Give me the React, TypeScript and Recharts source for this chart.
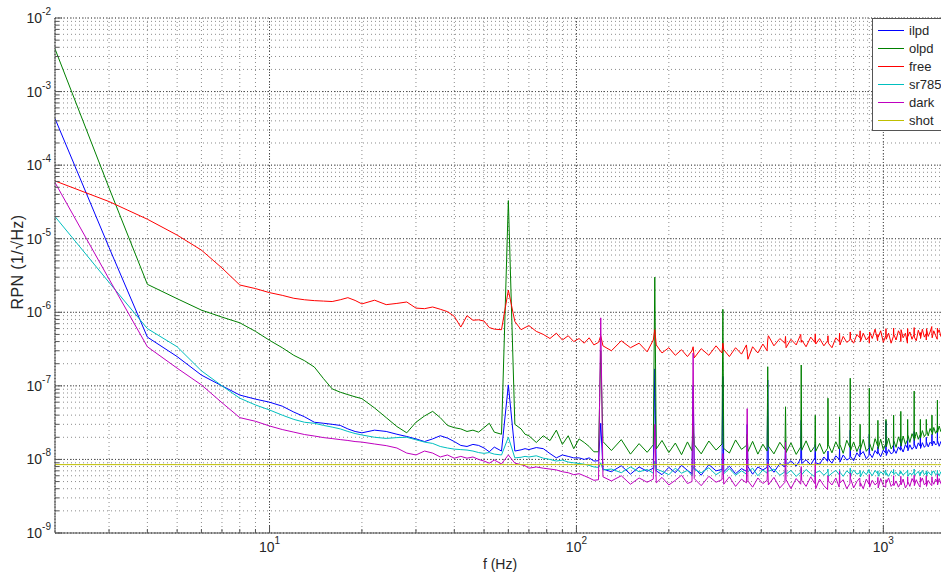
import React from 'react';
import { LineChart, Line, XAxis, YAxis, CartesianGrid, Legend } from 'recharts';

const FONT = '"Liberation Sans", Arial, Helvetica, sans-serif';

// ---------- frequency grid (Hz) ----------
const FREQ_LOW = [
  2, 3, 4, 5, 6, 7, 8, 9, 10, 11, 12, 13, 14, 15, 16, 17, 18, 19, 20,
  22, 24, 26, 28, 30, 32, 34, 36, 38, 40, 42, 44, 46, 48, 50, 52, 54,
  57, 60, 63,
  66, 68, 70,
  74, 78, 82, 86, 90, 94, 98, 102, 106, 110, 114,
];
const FREQ_HIGH = [
  118, 120, 122, 130, 140, 150, 160, 170,
  178, 180, 182, 190, 200, 210, 220, 230,
  238, 240, 242, 255, 270, 285,
  298, 300, 302, 315, 330, 345,
  358, 360, 362, 375, 390, 405,
  418, 420, 422, 440, 460,
  478, 480, 482, 500, 520,
  538, 540, 542, 560, 580,
  598, 600, 602, 620, 640,
  658, 660, 662, 680, 700,
  718, 720, 722, 740, 760,
  778, 780, 782, 800, 820,
  838, 840, 842, 860, 880,
  898, 900, 902, 920, 940,
  958, 960, 962, 980, 1000,
  1018, 1020, 1022, 1040, 1060,
  1078, 1080, 1082, 1100, 1120,
  1138, 1140, 1142, 1160, 1180,
  1198, 1200, 1202, 1220, 1240,
  1258, 1260, 1262, 1280, 1300,
  1318, 1320, 1322, 1340, 1360,
  1378, 1380, 1382, 1400, 1420,
  1438, 1440, 1442, 1460, 1480,
  1498, 1500, 1502, 1520, 1540,
  1558, 1560, 1562, 1580, 1600,
];

// ---------- series values, in units of 1e-9 (1/sqrt(Hz)) ----------
const ILPD_LOW = [
  430000, 7600, 460, 250, 140, 100, 75, 66, 60, 53, 44, 38, 32, 31, 30, 29, 26, 24, 23,
  25, 24, 22, 20.5, 19, 17.5, 19, 21, 19.5, 17.5, 15.5, 15, 16, 15.5, 14.3, 12.7, 14.7,
  13, 103, 13,
  13.5, 14, 13.6,
  14.5, 14, 12, 10.5, 11.5, 11, 10.5, 10.5, 10, 10.5, 9.5,
];
const ILPD_HIGH = [
  9.6, 31, 7.4, 6.8, 8.2, 6.3, 7.9, 6.9,
  7.6, 170, 7.0, 6.2, 7.8, 6.6, 8.3, 7.1,
  6.4, 100, 7.7, 6.1, 8.5, 7.0,
  7.3, 135, 6.8, 8.1, 6.4, 7.5,
  6.9, 30, 8.0, 6.3, 7.9, 7.2,
  7.8, 120, 8.4, 6.7, 8.8,
  7.9, 18, 8.3, 9.6, 8.1,
  10.2, 34, 8.8, 9.9, 8.4,
  10.5, 16, 9.0, 8.6, 10.8,
  9.4, 13, 10.1, 8.9, 11.2,
  10.0, 14, 9.2, 11.5, 9.8,
  10.4, 25, 11.0, 9.6, 12.3,
  10.8, 14, 11.6, 12.8, 10.2,
  11.4, 22, 12.1, 10.6, 13.2,
  11.8, 15, 12.6, 10.9, 13.4,
  12.2, 33, 11.3, 13.6, 11.9,
  12.5, 18, 13.9, 12.1, 14.8,
  13.3, 19, 14.6, 12.6, 15.9,
  14.2, 20, 13.1, 15.8, 13.7,
  14.9, 24, 16.3, 13.9, 16.8,
  15.2, 21, 14.1, 16.9, 14.6,
  15.6, 20, 17.4, 14.8, 17.1,
  16.2, 22, 15.3, 17.8, 15.7,
  16.6, 26, 18.1, 15.1, 17.5,
  16.4, 21, 18.3, 15.9, 17.2,
];

const OLPD_LOW = [
  3800000, 49000, 2400, 1530, 1070, 860, 720, 550, 416, 330, 260, 220, 180, 125, 91, 82, 76, 71, 67,
  50, 37, 28, 23, 32, 39, 45, 37, 29, 27, 26, 24, 25, 23.5, 27, 31, 23.5,
  22, 33000, 30,
  26, 22, 21,
  17, 21, 18, 25, 16, 21, 14, 19, 17, 15, 12.7,
];
const OLPD_HIGH = [
  12.7, 300, 17.5, 13.2, 18.6, 11.8, 16.4, 12.5,
  15.8, 3000, 13.9, 18.1, 12.4, 16.7, 11.6, 17.3,
  13.1, 28, 15.9, 11.9, 17.8, 13.4,
  16.2, 1100, 14.1, 12.2, 18.4, 13.7,
  15.5, 22, 12.8, 17.6, 11.8, 16.1,
  13.0, 182, 15.2, 11.9, 17.1,
  13.6, 52, 12.4, 16.8, 11.7,
  14.8, 192, 13.3, 17.9, 12.6,
  15.1, 40, 12.9, 16.5, 11.9,
  14.2, 68, 15.8, 12.3, 17.4,
  13.8, 38, 16.0, 12.1, 18.2,
  14.6, 127, 13.2, 17.3, 12.8,
  15.9, 30, 13.6, 18.7, 12.9,
  14.4, 93, 16.6, 13.1, 19.2,
  15.3, 34, 14.0, 18.8, 13.5,
  16.4, 35, 14.8, 19.5, 13.9,
  15.7, 40, 17.9, 14.6, 20.3,
  16.8, 45, 15.2, 20.8, 16.1,
  18.4, 35, 21.6, 17.0, 22.4,
  19.3, 85, 18.1, 23.5, 18.8,
  21.9, 35, 19.6, 24.7, 20.4,
  22.1, 35, 25.8, 20.9, 26.3,
  23.4, 40, 21.7, 27.2, 22.6,
  25.1, 64, 23.3, 28.4, 23.9,
  26.2, 40, 24.8, 29.0, 25.5,
];

const FREE_LOW = [
  61000, 32000, 18400, 11200, 7000, 4000, 2350, 2100, 1850, 1700, 1550, 1480, 1440, 1420, 1400, 1480, 1580, 1450, 1300,
  1460, 1270, 1320, 1380, 1140, 1120, 1180, 1100, 1020, 880, 630, 900, 780, 790, 760, 620, 590,
  580, 2000, 750,
  580, 620, 660,
  550, 500, 440, 520, 420, 480, 400, 440, 380, 450, 360,
];
const FREE_HIGH = [
  390, 480, 350, 300, 410, 330, 380, 290,
  420, 580, 360, 280, 330, 260, 310, 250,
  300, 340, 240, 320, 260, 350,
  280, 380, 310, 250, 330, 270,
  360, 290, 230, 340, 280, 370,
  300, 420, 480, 350, 440,
  380, 470, 330, 430, 360,
  500, 390, 420, 340, 460,
  390, 510, 370, 440, 350,
  410, 480, 380, 330, 450,
  400, 520, 360, 470, 390,
  420, 540, 440, 380, 500,
  450, 560, 400, 520, 420,
  470, 380, 540, 440, 590,
  410, 500, 460, 560, 390,
  480, 600, 430, 520, 380,
  470, 610, 500, 420, 560,
  490, 400, 580, 450, 520,
  380, 600, 470, 540, 430,
  500, 620, 460, 410, 570,
  480, 530, 440, 590, 460,
  510, 420, 600, 470, 540,
  640, 500, 450, 560, 480,
  430, 610, 520, 580, 470,
  540, 650, 490, 600, 520,
];

const SR785_LOW = [
  20000, 2550, 600, 340, 160, 100, 68, 55, 47, 40, 35, 32, 31, 29, 27.5, 26, 24, 22.5, 21.5,
  20, 19.3, 19.8, 20, 18.5, 17.2, 16.5, 15, 14.3, 13.8, 13.6, 13.4, 13, 12.4, 12.1, 12.4, 11.8,
  11.5, 20, 10.5,
  10.7, 11, 10.8,
  11.2, 10.4, 10, 9.5, 9.8, 9.2, 9, 8.8, 8.6, 8.3, 7.9,
];
const SR785_HIGH = [
  7.8, 9.0, 7.2, 7.4, 6.6, 7.9, 6.8, 7.3,
  6.5, 9.5, 7.4, 6.9, 6.2, 7.6, 6.5, 7.1,
  6.0, 8.0, 7.3, 6.6, 7.7, 6.2,
  7.0, 8.5, 6.4, 7.5, 6.1, 7.0,
  6.3, 7.4, 6.8, 7.6, 6.0, 7.2,
  6.5, 8.0, 6.9, 7.4, 6.1,
  6.8, 7.6, 6.3, 7.1, 5.9,
  6.7, 7.5, 6.2, 7.3, 6.4,
  5.8, 7.2, 6.6, 7.0, 6.1,
  6.8, 7.4, 5.9, 6.5, 7.1,
  6.2, 7.3, 6.7, 5.9, 7.0,
  6.4, 7.6, 6.0, 7.2, 6.3,
  6.6, 7.1, 5.8, 6.9, 6.2,
  7.3, 6.5, 6.8, 6.0, 7.1,
  6.4, 7.0, 5.9, 6.8, 6.3,
  7.2, 6.1, 6.6, 5.9, 6.9,
  6.5, 7.3, 6.2, 6.7, 6.0,
  7.0, 6.4, 6.8, 6.1, 6.6,
  6.9, 7.2, 5.9, 6.5, 6.2,
  6.8, 7.4, 6.1, 6.4, 6.9,
  6.0, 6.7, 6.3, 7.1, 6.2,
  6.6, 7.0, 6.0, 6.8, 6.3,
  6.1, 6.9, 6.5, 7.0, 6.2,
  6.4, 7.1, 6.6, 6.0, 6.8,
  6.7, 7.2, 6.3, 6.5, 6.9,
];

const DARK_LOW = [
  58000, 2830, 340, 174, 103, 59, 37, 33, 28.5, 25.5, 23.5, 21.8, 20.8, 19.8, 19.2, 18.6, 18.1, 17.5, 17.2,
  16.2, 15.4, 14.3, 12.2, 11.5, 13, 12.2, 10.8, 11.5, 10.4, 11, 10.4, 10.8, 10, 9.5, 8.9, 9.8,
  8.7, 11.5, 8.9,
  8.5, 8.2, 7.6,
  7.9, 7.6, 7.4, 7.2, 6.8, 6.6, 6.2, 6.4, 6.0, 5.6, 5.2,
];
const DARK_HIGH = [
  5.3, 840, 5.8, 5.1, 6.0, 4.6, 5.6, 4.9,
  5.4, 30, 4.8, 5.7, 4.5, 5.2, 6.1, 4.7,
  5.0, 280, 5.5, 4.4, 5.9, 4.9,
  5.3, 12, 4.6, 5.8, 4.3, 5.4,
  4.8, 49, 5.1, 4.2, 5.6, 4.7,
  5.2, 9, 4.5, 5.7, 4.1,
  4.9, 17, 5.3, 4.0, 5.5,
  4.6, 8, 5.2, 4.3, 5.8,
  4.7, 9, 4.0, 5.4, 4.4,
  3.9, 6, 5.1, 4.5, 5.6,
  4.2, 7, 4.8, 5.3, 4.0,
  4.7, 6.5, 5.5, 4.1, 5.0,
  5.6, 4.3, 4.8, 4.0, 5.4,
  4.6, 6.2, 4.2, 5.2, 4.5,
  4.9, 5.7, 4.1, 5.5, 4.4,
  4.2, 5.3, 4.8, 5.6, 4.3,
  4.7, 6.0, 4.4, 5.1, 4.2,
  4.8, 5.9, 4.5, 5.4, 4.1,
  4.6, 5.8, 5.0, 4.3, 5.5,
  4.9, 6.1, 4.4, 5.3, 4.6,
  4.2, 5.7, 4.9, 5.6, 4.5,
  4.8, 6.0, 4.3, 5.2, 4.7,
  4.4, 5.8, 5.1, 4.6, 5.4,
  4.9, 6.3, 4.5, 5.5, 4.7,
  4.3, 5.9, 5.0, 4.8, 5.3,
];

const SHOT_LEVEL = 8.5; // shot-noise level, units of 1e-9
const UNIT = 1e-9;

const SERIES = [
  { name: 'ilpd', color: '#0000ff', values: [...ILPD_LOW, ...ILPD_HIGH] },
  { name: 'olpd', color: '#008000', values: [...OLPD_LOW, ...OLPD_HIGH] },
  { name: 'free', color: '#ff0000', values: [...FREE_LOW, ...FREE_HIGH] },
  { name: 'sr785', color: '#00bfbf', values: [...SR785_LOW, ...SR785_HIGH] },
  { name: 'dark', color: '#bf00bf', values: [...DARK_LOW, ...DARK_HIGH] },
  { name: 'shot', color: '#bfbf00', values: null as number[] | null },
];

const FREQ = [...FREQ_LOW, ...FREQ_HIGH];

const rows = FREQ.map((f, i) => {
  const r: Record<string, number> = { f };
  SERIES.forEach((s) => {
    r[s.name] = (s.values ? s.values[i] : SHOT_LEVEL) * UNIT;
  });
  return r;
});

// ---------- axes ----------
const X_DOMAIN = [2, 1600];
const X_MAJOR = [10, 100, 1000];
const X_TICKS = [3, 4, 5, 6, 7, 8, 9, 10, 20, 30, 40, 50, 60, 70, 80, 90, 100, 200, 300, 400, 500, 600, 700, 800, 900, 1000];
const Y_DOMAIN = [1e-9, 1e-2];
const Y_EXPONENTS = [-9, -8, -7, -6, -5, -4, -3, -2];
const MINOR_MULT = [1, 2, 3, 4, 5, 6, 7, 8, 9];
const Y_MAJOR = Y_EXPONENTS.map((e) => Math.pow(10, e));
const Y_TICKS: number[] = [];
Y_EXPONENTS.forEach((e) => {
  if (e === -2) Y_TICKS.push(Math.pow(10, e));
  else MINOR_MULT.forEach((m) => Y_TICKS.push(m * Math.pow(10, e)));
});

const AXIS_COLOR = '#555555';
const TEXT_COLOR = '#262626';

const isDecade = (v: number) => {
  const lg = Math.log10(v);
  return Math.abs(lg - Math.round(lg)) < 1e-6;
};

const YTick = (props: any) => {
  const { x, y, payload } = props;
  const v = payload.value;
  const major = isDecade(v);
  const exp = Math.round(Math.log10(v));
  return (
    <g>
      <line x1={x} x2={x + (major ? 7 : 4)} y1={y} y2={y} stroke={AXIS_COLOR} />
      {major && (
        <text x={x - 4} y={y + 5} textAnchor="end" fontSize={14} fontFamily={FONT} fill={TEXT_COLOR}>
          10
          <tspan dy={-8} fontSize={10}>
            {String(exp)}
          </tspan>
        </text>
      )}
    </g>
  );
};

const XTick = (props: any) => {
  const { x, y, payload } = props;
  const v = payload.value;
  const major = isDecade(v);
  const exp = Math.round(Math.log10(v));
  return (
    <g>
      <line x1={x} x2={x} y1={y} y2={y - (major ? 7 : 4)} stroke={AXIS_COLOR} />
      {major && (
        <text x={x} y={y + 19} textAnchor="middle" fontSize={14} fontFamily={FONT} fill={TEXT_COLOR}>
          10
          <tspan dy={-8} fontSize={10}>
            {String(exp)}
          </tspan>
        </text>
      )}
    </g>
  );
};

const TopTick = (props: any) => {
  const { x, y, payload } = props;
  const major = isDecade(payload.value);
  return <line x1={x} x2={x} y1={y} y2={y + (major ? 7 : 4)} stroke={AXIS_COLOR} />;
};

const renderLegend = () => (
  <div
    style={{
      background: '#fff',
      border: `1px solid ${AXIS_COLOR}`,
      padding: '2px 0 1px 0',
      width: 90,
      fontFamily: FONT,
      fontSize: 13,
      color: TEXT_COLOR,
      boxSizing: 'border-box',
    }}
  >
    {SERIES.map((s) => (
      <div key={s.name} style={{ display: 'flex', alignItems: 'center', height: 18 }}>
        <svg width={36} height={18} style={{ display: 'block', flex: 'none' }}>
          <line x1={5} x2={31} y1={9.5} y2={9.5} stroke={s.color} strokeWidth={1} />
        </svg>
        <span>{s.name}</span>
      </div>
    ))}
  </div>
);

export default function App() {
  return (
    <div
      style={{
        position: 'fixed',
        left: 0,
        top: 0,
        width: 941,
        height: 573,
        overflow: 'hidden',
        background: '#fff',
      }}
    >
      <LineChart width={946} height={573} data={rows} margin={{ top: 18, right: 0, bottom: 0, left: 0 }}>
        <XAxis
          xAxisId="main"
          dataKey="f"
          type="number"
          scale="log"
          domain={X_DOMAIN}
          allowDataOverflow
          ticks={X_TICKS}
          interval={0}
          tick={<XTick />}
          tickLine={false}
          tickSize={0}
          tickMargin={0}
          height={40}
          axisLine={{ stroke: AXIS_COLOR }}
        />
        <XAxis
          xAxisId="top"
          orientation="top"
          dataKey="f"
          type="number"
          scale="log"
          domain={X_DOMAIN}
          allowDataOverflow
          ticks={X_TICKS}
          interval={0}
          tick={<TopTick />}
          tickLine={false}
          tickSize={0}
          tickMargin={0}
          height={0}
          axisLine={{ stroke: AXIS_COLOR }}
        />
        <XAxis xAxisId="maj" hide dataKey="f" type="number" scale="log" domain={X_DOMAIN} allowDataOverflow ticks={X_MAJOR} interval={0} />
        <YAxis
          yAxisId="main"
          type="number"
          scale="log"
          domain={Y_DOMAIN}
          allowDataOverflow
          ticks={Y_TICKS}
          interval={0}
          tick={<YTick />}
          tickLine={false}
          tickSize={0}
          tickMargin={0}
          width={55}
          axisLine={{ stroke: AXIS_COLOR }}
        />
        <YAxis yAxisId="maj" hide type="number" scale="log" domain={Y_DOMAIN} allowDataOverflow ticks={Y_MAJOR} interval={0} />
        <CartesianGrid xAxisId="main" yAxisId="main" stroke="#8c8c8c" strokeDasharray="1 3" />
        <CartesianGrid xAxisId="maj" yAxisId="maj" stroke="#4a4a4a" strokeDasharray="1 2" />
        {SERIES.map((s) => (
          <Line
            key={s.name}
            xAxisId="main"
            yAxisId="main"
            type="linear"
            dataKey={s.name}
            name={s.name}
            stroke={s.color}
            strokeWidth={1}
            dot={false}
            activeDot={false}
            isAnimationActive={false}
          />
        ))}
        <Legend
          layout="vertical"
          align="center"
          verticalAlign="middle"
          content={renderLegend}
          wrapperStyle={{ left: 872, top: 18, width: 90, height: 'auto' }}
        />
      </LineChart>
      <div
        style={{
          position: 'absolute',
          left: 18,
          top: 262,
          transform: 'translate(-50%, -50%) rotate(-90deg)',
          whiteSpace: 'nowrap',
          fontFamily: FONT,
          fontSize: 16,
          letterSpacing: 0.4,
          color: TEXT_COLOR,
        }}
      >
        RPN (1/√Hz)
      </div>
      <div
        style={{
          position: 'absolute',
          left: 500,
          top: 564,
          transform: 'translate(-50%, -50%)',
          whiteSpace: 'nowrap',
          fontFamily: FONT,
          fontSize: 14,
          color: TEXT_COLOR,
        }}
      >
        f (Hz)
      </div>
    </div>
  );
}
